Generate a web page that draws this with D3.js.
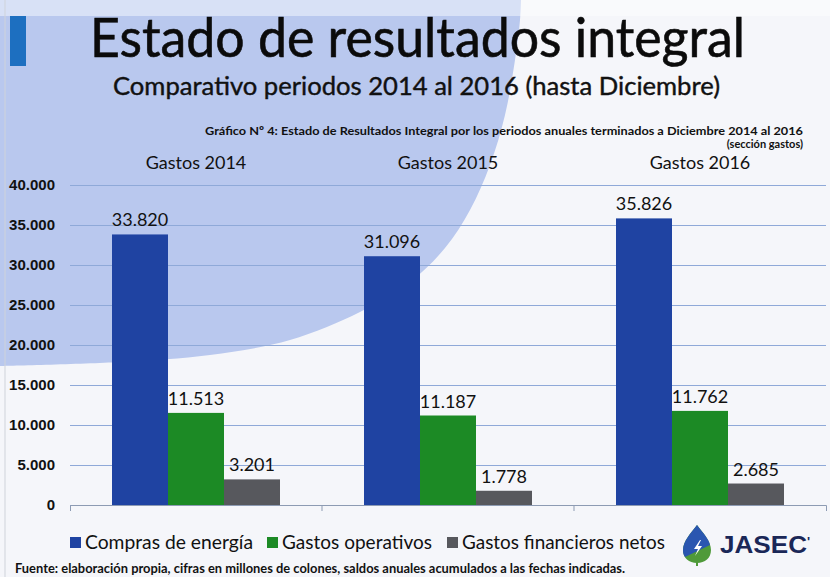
<!DOCTYPE html>
<meta charset="utf-8">
<style>
body { margin: 0; background: #f5f6fa; }
svg { display: block; font-family: Lato, "Open Sans", sans-serif; }
.grid line { stroke: #8fa9d8; stroke-width: 1px; }
.grid text { font-size: 15px; font-weight: bold; fill: #111; }
.axis--x path, .axis--x line { stroke: #8d9bb3; }
.value { font-size: 18px; fill: #111; text-anchor: middle; }
</style>
<svg width="830" height="577"></svg>
<script src="https://cdn.jsdelivr.net/npm/d3@7"></script>
<script>

var years = ["Gastos 2014", "Gastos 2015", "Gastos 2016"];
var seriesNames = ["Compras de energía", "Gastos operativos", "Gastos financieros netos"];
var compras = [33820, 31096, 35826];
var operativos = [11513, 11187, 11762];
var financieros = [3201, 1778, 2685];
var yTicks = [0, 5000, 10000, 15000, 20000, 25000, 30000, 35000, 40000];
var colors = ["#1f43a2", "#1c8a25", "#57585d"];

var svg = d3.select("svg"),
    margin = {top: 185, right: 4, bottom: 72, left: 70},
    width = svg.attr("width") - margin.left - margin.right,
    height = svg.attr("height") - margin.top - margin.bottom;

// background: big pale blue disc on the upper left of the slide
var bgEdge = [[521, 0], [520, 20], [515, 60], [505, 115], [490, 165], [470, 210], [445, 248],
              [410, 282], [360, 312], [290, 340], [210, 355], [120, 362], [0, 366]];
svg.append("path")
    .attr("d", "M0,0L" + d3.line().curve(d3.curveCatmullRom)(bgEdge).slice(1) + "Z")
    .attr("fill", "#b9c8ee");
svg.append("rect")
    .attr("width", 830).attr("height", 16)
    .attr("fill", "#fff").attr("opacity", 0.45);
svg.append("line")
    .attr("x1", 5).attr("x2", 5).attr("y1", 0).attr("y2", 577)
    .attr("stroke", "#cfd3da");

// title block
svg.append("rect")
    .attr("x", 10).attr("y", 16).attr("width", 16).attr("height", 50)
    .attr("fill", "#1d6fc0");

svg.append("text")
    .attr("x", 90).attr("y", 57)
    .attr("textLength", 655).attr("lengthAdjust", "spacingAndGlyphs")
    .style("font-size", "54px").style("fill", "#0b0b0b")
    .style("stroke", "#0b0b0b").style("stroke-width", 0.6)
    .text("Estado de resultados integral");

svg.append("text")
    .attr("x", 113).attr("y", 95)
    .attr("textLength", 607).attr("lengthAdjust", "spacingAndGlyphs")
    .style("font-size", "25px").style("fill", "#111")
    .style("stroke", "#111").style("stroke-width", 0.4)
    .text("Comparativo periodos 2014 al 2016 (hasta Diciembre)");

svg.append("text")
    .attr("x", 205).attr("y", 135)
    .attr("textLength", 598).attr("lengthAdjust", "spacingAndGlyphs")
    .style("font-size", "12px").style("font-weight", "bold").style("fill", "#111")
    .text("Gráfico Nº 4: Estado de Resultados Integral por los periodos anuales terminados a Diciembre 2014 al 2016");

svg.append("text")
    .attr("x", 803).attr("y", 148)
    .attr("text-anchor", "end")
    .style("font-size", "11px").style("font-weight", "bold").style("fill", "#111")
    .text("(sección gastos)");

var g = svg.append("g").attr("transform", "translate(" + margin.left + "," + margin.top + ")");

var x0 = d3.scaleBand().domain(years).range([0, width]);
var x1 = d3.scaleBand().domain(seriesNames).range([0, x0.bandwidth()]).paddingOuter(0.75);
var y = d3.scaleLinear().domain([0, 40000]).range([height, 0]);

var locale = d3.formatLocale({decimal: ",", thousands: ".", grouping: [3], currency: ["", ""]});
var fmt = locale.format(",");

g.append("g")
    .attr("class", "grid")
    .call(d3.axisLeft(y).tickValues(yTicks).tickFormat(fmt).tickSize(-width).tickPadding(15))
    .call(function(s) { s.select(".domain").remove(); });

g.append("g")
    .attr("class", "axis axis--x")
    .attr("transform", "translate(0," + height + ")")
    .call(d3.axisBottom(x0).tickValues([]).tickSizeOuter(6))
    .call(function(s) {
      x0.domain().forEach(function(d, i) {
        if (i > 0) s.append("line").attr("x1", x0(d)).attr("x2", x0(d)).attr("y2", 6);
      });
    });

g.selectAll(".year")
    .data(years)
  .enter().append("text")
    .attr("x", function(d) { return x0(d) + x0.bandwidth() / 2; })
    .attr("y", -16)
    .attr("text-anchor", "middle")
    .style("font-size", "18px").style("fill", "#111")
    .text(function(d) { return d; });

var table = years.map(function(yr, i) {
  return {year: yr, values: [compras[i], operativos[i], financieros[i]].map(function(v, j) {
    return {key: seriesNames[j], value: v, color: colors[j]};
  })};
});

var group = g.selectAll(".group")
    .data(table)
  .enter().append("g")
    .attr("transform", function(d) { return "translate(" + x0(d.year) + ",0)"; });

group.selectAll("rect")
    .data(function(d) { return d.values; })
  .enter().append("rect")
    .attr("x", function(d) { return x1(d.key); })
    .attr("y", function(d) { return y(d.value); })
    .attr("width", x1.bandwidth())
    .attr("height", function(d) { return height - y(d.value); })
    .attr("fill", function(d) { return d.color; });

group.selectAll(".value")
    .data(function(d) { return d.values; })
  .enter().append("text")
    .attr("class", "value")
    .attr("x", function(d) { return x1(d.key) + x1.bandwidth() / 2; })
    .attr("y", function(d) { return y(d.value) - 8; })
    .text(function(d) { return fmt(d.value); });

// legend
var legendX = [70, 267, 447];
var legendW = [168, 150, 203];
var legend = svg.selectAll(".legend")
    .data(seriesNames)
  .enter().append("g")
    .attr("transform", function(d, i) { return "translate(" + legendX[i] + ",537)"; });

legend.append("rect")
    .attr("width", 11).attr("height", 11)
    .attr("fill", function(d, i) { return colors[i]; });

legend.append("text")
    .attr("x", 15).attr("y", 12)
    .attr("textLength", function(d, i) { return legendW[i]; })
    .attr("lengthAdjust", "spacingAndGlyphs")
    .style("font-size", "20px").style("fill", "#111")
    .text(function(d) { return d; });

// JASEC logo
var logo = svg.append("g").attr("transform", "translate(697,525)");
logo.append("path")
    .attr("d", "M0,0C6,8 14,16 14,25C14,33 8,38 0,38C-8,38 -14,33 -14,25C-14,16 -6,8 0,0Z")
    .attr("fill", "#4f9a3a");
logo.append("path")
    .attr("d", "M0,0C6,8 12,14 13,20L-12,32C-14,29 -14,27 -14,25C-14,16 -6,8 0,0Z")
    .attr("fill", "#2a56b0");
logo.append("path")
    .attr("d", "M3,15L-3,24L1,24L-2,31L5,21L1,21L4,15Z")
    .attr("fill", "#fff");
logo.append("line")
    .attr("x1", 0).attr("x2", 0).attr("y1", 36).attr("y2", 41)
    .attr("stroke", "#4f9a3a").attr("stroke-width", 2);

svg.append("text")
    .attr("x", 720).attr("y", 553)
    .attr("textLength", 87).attr("lengthAdjust", "spacingAndGlyphs")
    .style("font-family", "'Liberation Sans', Arial, sans-serif")
    .style("font-size", "23px").style("font-weight", "bold").style("fill", "#1a2757")
    .text("JASEC");
svg.append("text")
    .attr("x", 807).attr("y", 546)
    .style("font-family", "'Liberation Sans', Arial, sans-serif")
    .style("font-size", "13px").style("font-weight", "bold").style("fill", "#1a2757")
    .text("'");

svg.append("text")
    .attr("x", 15).attr("y", 573)
    .attr("textLength", 610).attr("lengthAdjust", "spacingAndGlyphs")
    .style("font-size", "12.5px").style("font-weight", "bold").style("fill", "#111")
    .text("Fuente: elaboración propia, cifras en millones de colones, saldos anuales acumulados a las fechas indicadas.");

</script>
